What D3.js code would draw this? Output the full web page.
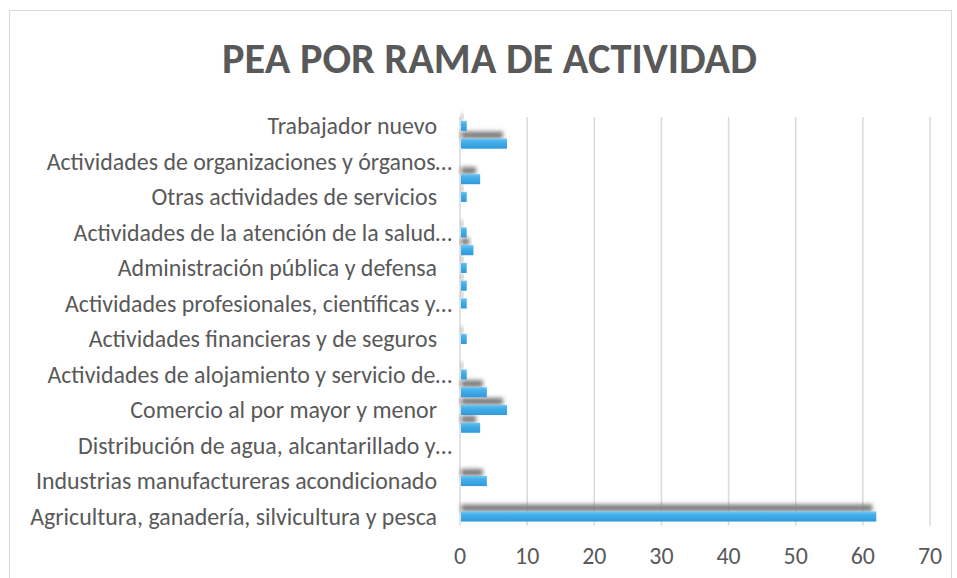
<!DOCTYPE html>
<html><head><meta charset="utf-8">
<script src="https://cdn.jsdelivr.net/npm/d3@7"></script>
<style>body{margin:0;background:#fff}</style>
</head><body>
<svg id="c" width="957" height="578"></svg>
<script>
const title = "PEA POR RAMA DE ACTIVIDAD";
// top to bottom
const categories = [
  "Trabajador nuevo",
  "Actividades no especificadas",
  "Actividades de organizaciones y órganos…",
  "Actividades de los hogares como empleadores",
  "Otras actividades de servicios",
  "Actividades artísticas, de entretenimiento",
  "Actividades de la atención de la salud…",
  "Enseñanza",
  "Administración pública y defensa",
  "Actividades de servicios administrativos",
  "Actividades profesionales, científicas y…",
  "Actividades inmobiliarias",
  "Actividades financieras y de seguros",
  "Información y comunicaciones",
  "Actividades de alojamiento y servicio de…",
  "Transporte y almacenamiento",
  "Comercio al por mayor y menor",
  "Construcción",
  "Distribución de agua, alcantarillado y…",
  "Suministro de electricidad, gas, vapor",
  "Industrias manufactureras acondicionado",
  "Explotación de minas y canteras",
  "Agricultura, ganadería, silvicultura y pesca"
];
const values = [1, 7, 0, 3, 1, 0, 1, 2, 1, 1, 1, 0, 1, 0, 1, 4, 7, 3, 0, 0, 4, 0, 62];
const xTicks = [0, 10, 20, 30, 40, 50, 60, 70];

const data = categories.map((c, i) => ({ cat: c, val: values[i], i }));
const svg = d3.select("#c");
const FONT = "Carlito, Lato, 'Open Sans', sans-serif";
const TXT = "#595959";

const defs = svg.append("defs");
const g = defs.append("linearGradient").attr("id", "bar").attr("x1", 0).attr("y1", 0).attr("x2", 0).attr("y2", 1);
g.append("stop").attr("offset", "0%").attr("stop-color", "#6cc8f3");
g.append("stop").attr("offset", "30%").attr("stop-color", "#45b0eb");
g.append("stop").attr("offset", "100%").attr("stop-color", "#3199da");
defs.append("filter").attr("id", "blur").attr("x", "-20%").attr("y", "-100%").attr("width", "140%").attr("height", "300%")
  .append("feGaussianBlur").attr("stdDeviation", 2);

// chart border
svg.append("rect").attr("x", 9.5).attr("y", 10.5).attr("width", 942).attr("height", 600)
  .attr("fill", "#fff").attr("stroke", "#d9d9d9").attr("stroke-width", 1);

const x = d3.scaleLinear().domain([0, 70]).range([460, 930]);
const y = d3.scaleBand().domain(categories).range([117, 525.4]).paddingInner(0.43).paddingOuter(0.215);

// gridlines
svg.append("g").selectAll("line").data(xTicks).join("line")
  .attr("x1", d => x(d)).attr("x2", d => x(d))
  .attr("y1", 117).attr("y2", 525.4)
  .attr("stroke", "#d9d9d9").attr("stroke-width", 1.5);

// shadows
svg.append("g").selectAll("rect").data(data.filter(d => d.val > 0)).join("rect")
  .attr("x", x(0) + 1)
  .attr("y", d => y(d.cat) - 7)
  .attr("width", d => Math.max(0, x(d.val) - x(0) - 5))
  .attr("height", 7)
  .attr("fill", "#7a7a7a").attr("opacity", 1)
  .attr("filter", "url(#blur)");

// bars
svg.append("g").selectAll("rect").data(data.filter(d => d.val > 0)).join("rect")
  .attr("x", x(0) + 1)
  .attr("y", d => y(d.cat))
  .attr("width", d => x(d.val) - x(0) - 1)
  .attr("height", y.bandwidth())
  .attr("fill", "url(#bar)");

// category labels (every other)
const labels = svg.append("g").selectAll("text").data(data.filter((d, i) => (categories.length - 1 - i) % 2 === 0)).join("text")
  .attr("x", d => d.cat.endsWith("…") ? 452 : 437)
  .attr("y", d => y(d.cat) + y.bandwidth() / 2)
  .attr("dy", "0.35em")
  .attr("text-anchor", "end")
  .attr("font-family", FONT).attr("font-size", 18).attr("fill", TXT)
  .text(d => d.cat);
// fit font size so the longest label matches the reference width
const longest = labels.filter(d => d.cat.startsWith("Agricultura")).node();
const fs = 18 * 407 / longest.getComputedTextLength();
labels.attr("font-size", fs);

// x axis labels
svg.append("g").selectAll("text").data(xTicks).join("text")
  .attr("x", d => x(d)).attr("y", 564)
  .attr("text-anchor", "middle")
  .attr("font-family", FONT).attr("font-size", fs).attr("fill", TXT)
  .text(d => d);

// title
const t = svg.append("text").attr("x", 489.5).attr("y", 73)
  .attr("text-anchor", "middle").attr("font-family", FONT).attr("font-weight", "bold")
  .attr("font-size", 36).attr("fill", TXT).text(title);
t.attr("font-size", 36 * 535 / t.node().getComputedTextLength());
</script>
</body></html>
